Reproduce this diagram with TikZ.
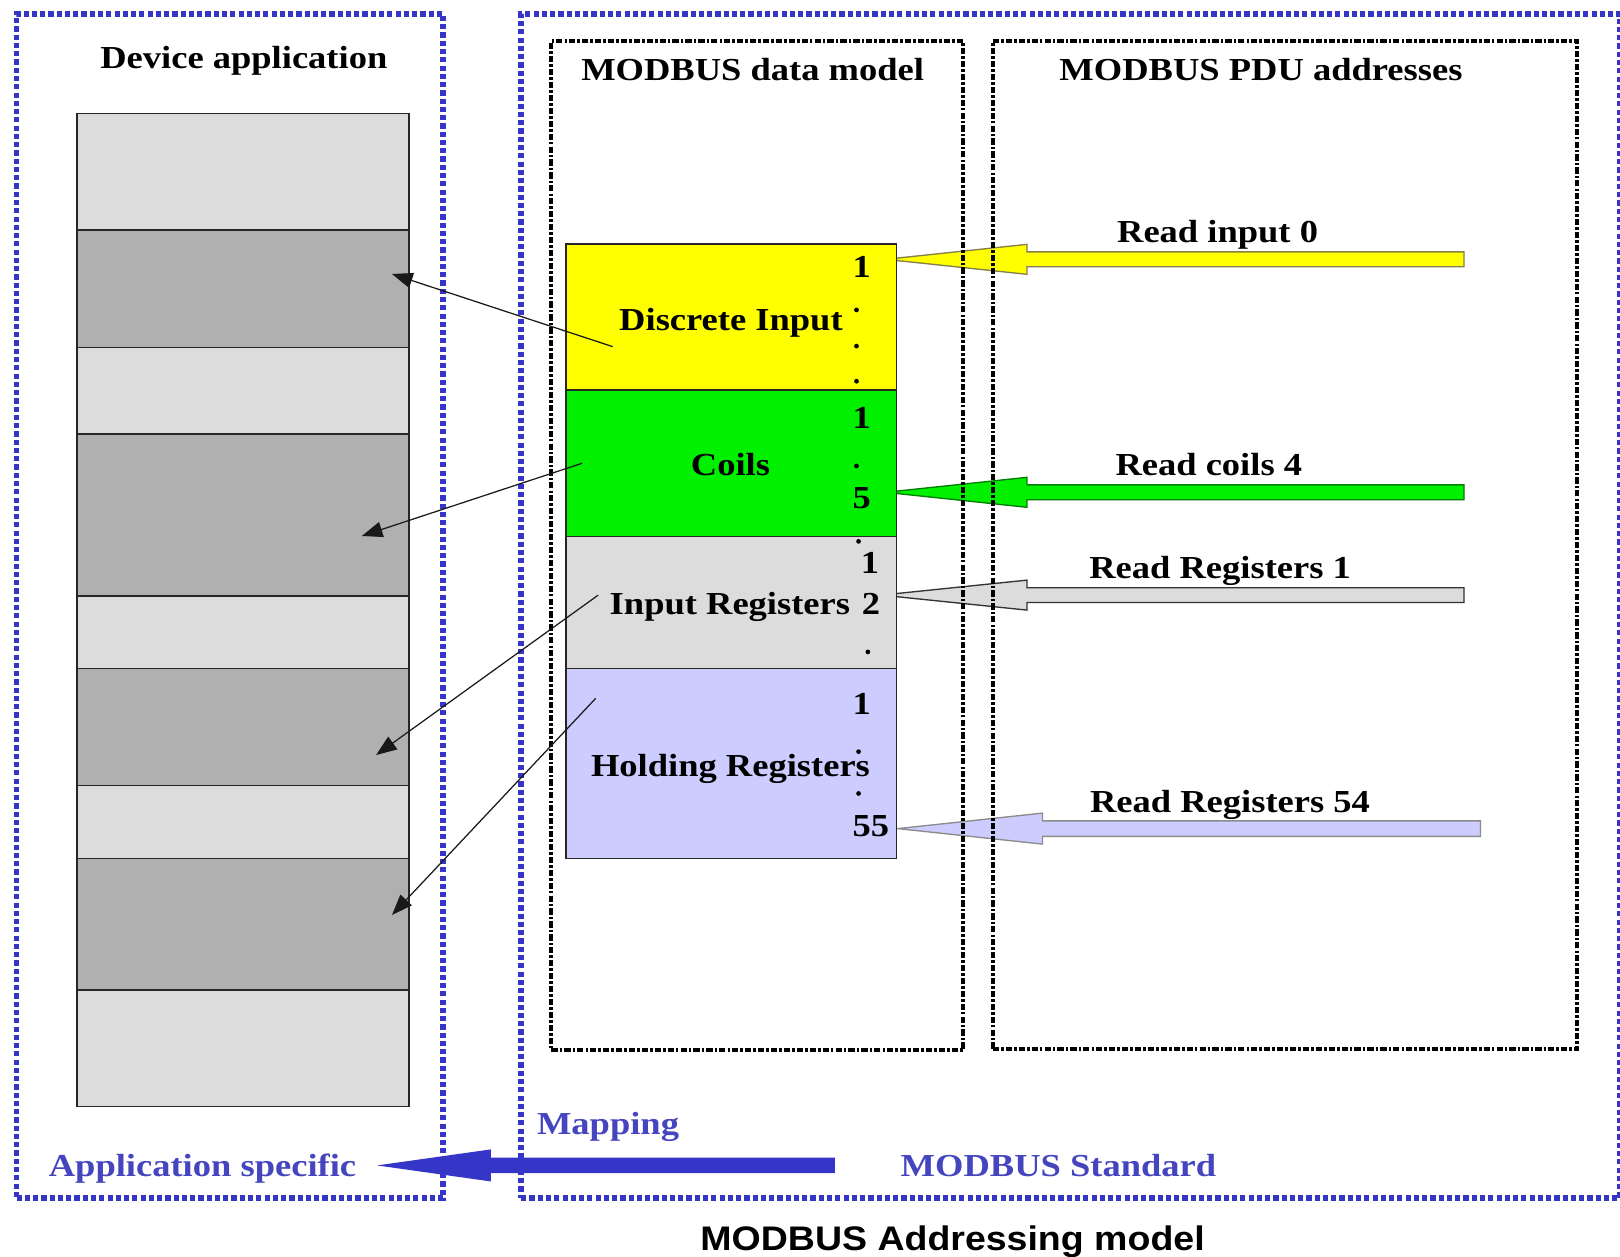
\documentclass[tikz,border=0pt]{standalone}
\usepackage{fontspec}
\setmainfont{Liberation Serif}[FakeStretch=1.14]
\newfontfamily\capsans{Liberation Sans}[FakeStretch=1.1]
\usetikzlibrary{arrows.meta}
\definecolor{mblue}{HTML}{3535C8}
\definecolor{tblue}{HTML}{4545C0}
\definecolor{lgray}{HTML}{DCDCDC}
\definecolor{dgray}{HTML}{B0B0B0}
\definecolor{lav}{HTML}{CCCCFF}
\definecolor{mgreen}{HTML}{00F000}
\definecolor{myellow}{HTML}{FFFF00}
\tikzset{
 bluebox/.style={draw=mblue, line width=5.5pt, dash pattern=on 5pt off 3pt, rectangle, anchor=north west, inner sep=0pt},
 blackbox/.style={draw=black, line width=4pt, dash pattern=on 6pt off 2pt on 2.5pt off 2pt, rectangle, anchor=north west, inner sep=0pt},
 band/.style={draw=black!85, line width=1.4pt, rectangle, anchor=north west, inner sep=0pt, minimum width=321pt},
 blk/.style={draw=black!85, line width=1.4pt, rectangle, anchor=north west, inner sep=0pt, minimum width=320pt},
 txt/.style={font=\fontsize{31}{36}\selectfont\bfseries, inner sep=0pt, anchor=base},
 btxt/.style={txt, text=tblue},
 dotn/.style={circle, fill=black, inner sep=0pt, minimum size=4.6pt},
 conn/.style={draw=black!90, line width=1.2pt, -{Triangle[length=20pt,width=15pt]}},
 pdu/.style={line width=1.3pt},
}
\begin{document}
\begin{tikzpicture}[x=1pt,y=-1pt]
\fill[white] (0,0) rectangle (1568,1216);
\useasboundingbox (0,0) rectangle (1568,1216);

% left column (device application)
\node[band, fill=lgray, minimum height=113pt]   (b1) at (74,109) {};
\node[band, fill=dgray, minimum height=113.5pt] (b2) at (74,222) {};
\node[band, fill=lgray, minimum height=83.9pt]  (b3) at (74,335.5) {};
\node[band, fill=dgray, minimum height=156.6pt] (b4) at (74,419.4) {};
\node[band, fill=lgray, minimum height=70.2pt]  (b5) at (74,576) {};
\node[band, fill=dgray, minimum height=113.6pt] (b6) at (74,646.2) {};
\node[band, fill=lgray, minimum height=70.2pt]  (b7) at (74,759.8) {};
\node[band, fill=dgray, minimum height=127.3pt] (b8) at (74,830) {};
\node[band, fill=lgray, minimum height=112.7pt] (b9) at (74,957.3) {};

% PDU block arrows
\coordinate (t1) at (857,251);
\coordinate (t2) at (857,476.5);
\coordinate (t3) at (853,576);
\coordinate (t4) at (869,802);
\draw[pdu, fill=myellow, draw=black!55!yellow] (t1) -- ++(137,-14.5) -- ++(0,7.3) -- ++(423,0) -- ++(0,14.4) -- ++(-423,0) -- ++(0,7.3) -- cycle;
\draw[pdu, fill=mgreen, draw=green!50!black] (t2) -- ++(137,-14.5) -- ++(0,7.3) -- ++(423,0) -- ++(0,14.4) -- ++(-423,0) -- ++(0,7.3) -- cycle;
\draw[pdu, fill=lgray, draw=black!80] (t3) -- ++(141,-14.5) -- ++(0,7.3) -- ++(423,0) -- ++(0,14.4) -- ++(-423,0) -- ++(0,7.3) -- cycle;
\draw[pdu, fill=lav, draw=black!45] (t4) -- ++(140,-15) -- ++(0,7.5) -- ++(424,0) -- ++(0,15) -- ++(-424,0) -- ++(0,7.5) -- cycle;

% mapping arrow
\coordinate (tm) at (365,1128);
\fill[mblue] (tm) -- ++(110,-15.5) -- ++(0,8) -- ++(333,0) -- ++(0,15) -- ++(-333,0) -- ++(0,8) -- cycle;

% dashed boxes
\node[bluebox, minimum width=412.7pt, minimum height=1146.4pt] (appbox) at (13.3,10.6) {};
\node[bluebox, minimum width=1063.3pt, minimum height=1146.4pt] (stdbox) at (501.7,10.6) {};
\node[blackbox, minimum width=398.3pt, minimum height=976.6pt] (dmbox) at (531.7,38) {};
\node[blackbox, minimum width=565.5pt, minimum height=975pt] (pdubox) at (959,38) {};

% data model blocks
\node[blk, fill=myellow, minimum height=141.3pt] (di) at (547,235.5) {};
\node[blk, fill=mgreen, minimum height=142pt] (co) at (547,376.8) {};
\node[blk, fill=lgray, minimum height=127.4pt] (ir) at (547,518.8) {};
\node[blk, fill=lav, minimum height=183.8pt] (hr) at (547,646.2) {};

% titles
\node[txt] (tda) at (236,66) {Device application};
\node[txt] (tdm) at (728.5,78) {MODBUS data model};
\node[txt] (tpdu) at (1220.5,78) {MODBUS PDU addresses};

% block labels
\node[txt] (ldi) at (707.5,319.5) {Discrete Input};
\node[txt] (lco) at (707,460) {Coils};
\node[txt] (lir) at (706.5,595) {Input Registers};
\node[txt] (lhr) at (707,752) {Holding Registers};

% numbers
\node[txt] (n1) at (834,268.5) {1};
\node[txt] (n2) at (834,414.6) {1};
\node[txt] (n3) at (834,492) {5};
\node[txt] (n4) at (842,555) {1};
\node[txt] (n5) at (843,595) {2};
\node[txt] (n6) at (834,692) {1};
\node[txt] (n7) at (843,810) {55};

% dots
\node[dotn] (d1) at (829,300) {};
\node[dotn] (d2) at (829,335) {};
\node[dotn] (d3) at (829,369) {};
\node[dotn] (d4) at (829,451) {};
\node[dotn] (d5) at (831,524) {};
\node[dotn] (d6) at (840,631) {};
\node[dotn] (d7) at (831,727.5) {};
\node[dotn] (d8) at (831,768) {};

% PDU labels
\node[txt] (r1) at (1178.5,235) {Read input 0};
\node[txt] (r2) at (1170,460) {Read coils 4};
\node[txt] (r3) at (1181,560) {Read Registers 1};
\node[txt] (r4) at (1190.5,786) {Read Registers 54};

% bottom labels
\node[btxt] (lmap) at (588.5,1098) {Mapping};
\node[btxt] (lapp) at (196,1139) {Application specific};
\node[btxt] (lstd) at (1024.5,1139) {MODBUS Standard};
\node[font=\capsans\fontsize{33}{38}\selectfont\bfseries, inner sep=0pt, anchor=base] (cap) at (922,1210) {MODBUS Addressing model};

% mapping connectors
\coordinate (s1) at (593,335.5);  \coordinate (e1) at (379.4,265.2);
\coordinate (s2) at (563.4,448.4); \coordinate (e2) at (350.2,518.8);
\coordinate (s3) at (579,576);    \coordinate (e3) at (364,730.8);
\coordinate (s4) at (576.6,675.9); \coordinate (e4) at (379.4,885.6);
\draw[conn] (s1) -- (e1);
\draw[conn] (s2) -- (e2);
\draw[conn] (s3) -- (e3);
\draw[conn] (s4) -- (e4);
\end{tikzpicture}
\end{document}
